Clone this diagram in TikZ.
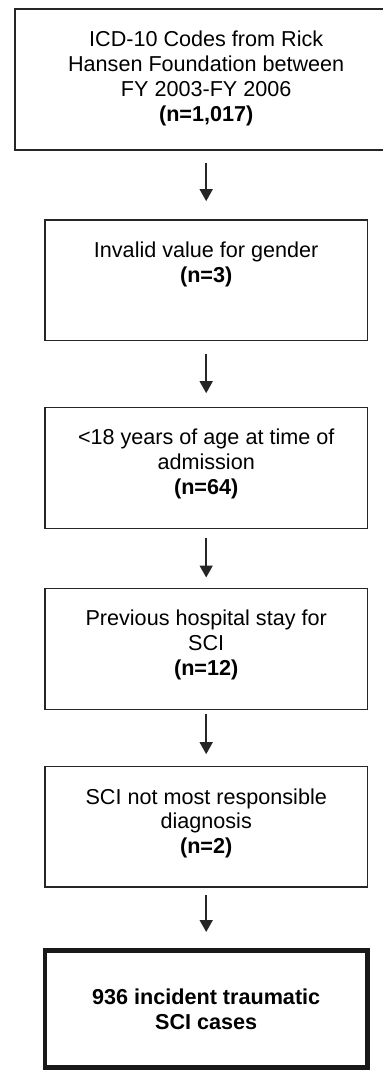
\documentclass[tikz,border=0pt]{standalone}
\usepackage{fontspec}
\setmainfont{Liberation Sans}
\usetikzlibrary{arrows.meta}
\newcommand{\flowbox}[6]{ \node[#1, minimum height=#4] (#2) at ( #3 ) {\parbox[c][#4][t]{150pt}{\centering\rule{0pt}{#5}#6}};}

\begin{document}
\begin{tikzpicture}[
  box/.style={draw=black!85, line width=0.8pt, inner sep=0pt, minimum width=161.25pt, font=\fontsize{10.8pt}{12.4pt}\selectfont},
  openbox/.style={box, draw=none, outer sep=0pt, minimum width=191.2pt},
  lastbox/.style={box, draw=black!90, line width=2.3pt},
  flow/.style={draw=black!85, line width=0.8pt, -{Triangle[width=6.5pt,length=6pt]}}
]
\useasboundingbox (0,0) rectangle (191.5pt,-535pt);
\coordinate (rim) at (191.5pt,-535pt);
% boxes, top to bottom
\flowbox{openbox}{b1}{103.1pt,-39.8pt}{70.3pt}{18.75pt}{ICD-10 Codes from Rick\\ Hansen Foundation between\\ FY 2003-FY 2006\\ \textbf{(n=1,017)}}
\draw[draw=black!85, line width=0.8pt] (b1.north west -| rim) -- (b1.north west) -- (b1.south west) -- (b1.south west -| rim);
\flowbox{box}{b2}{103.1pt,-140.1pt}{60.25pt}{18.75pt}{Invalid value for gender\\ \textbf{(n=3)}}
\flowbox{box}{b3}{103.1pt,-233.9pt}{60.5pt}{18.75pt}{<18 years of age at time of\\ admission\\ \textbf{(n=64)}}
\flowbox{box}{b4}{103.1pt,-324.4pt}{60.5pt}{18.75pt}{Previous hospital stay for\\ SCI\\ \textbf{(n=12)}}
\flowbox{box}{b5}{103.1pt,-413.4pt}{60.15pt}{18.75pt}{SCI not most responsible\\ diagnosis\\ \textbf{(n=2)}}
\flowbox{lastbox}{b6}{103.1pt,-504.6pt}{58.5pt}{27pt}{\textbf{936 incident traumatic}\\ \textbf{SCI cases}}
% arrows between boxes
\draw[flow, shorten <=6.5pt, shorten >=9pt] (b1) -- (b2);
\draw[flow, shorten <=6.25pt, shorten >=6.65pt] (b2) -- (b3);
\draw[flow, shorten <=4.2pt, shorten >=5pt] (b3) -- (b4);
\draw[flow, shorten <=2pt, shorten >=5.85pt] (b4) -- (b5);
\draw[flow, shorten <=3.5pt, shorten >=8.2pt] (b5) -- (b6);
\end{tikzpicture}
\end{document}
